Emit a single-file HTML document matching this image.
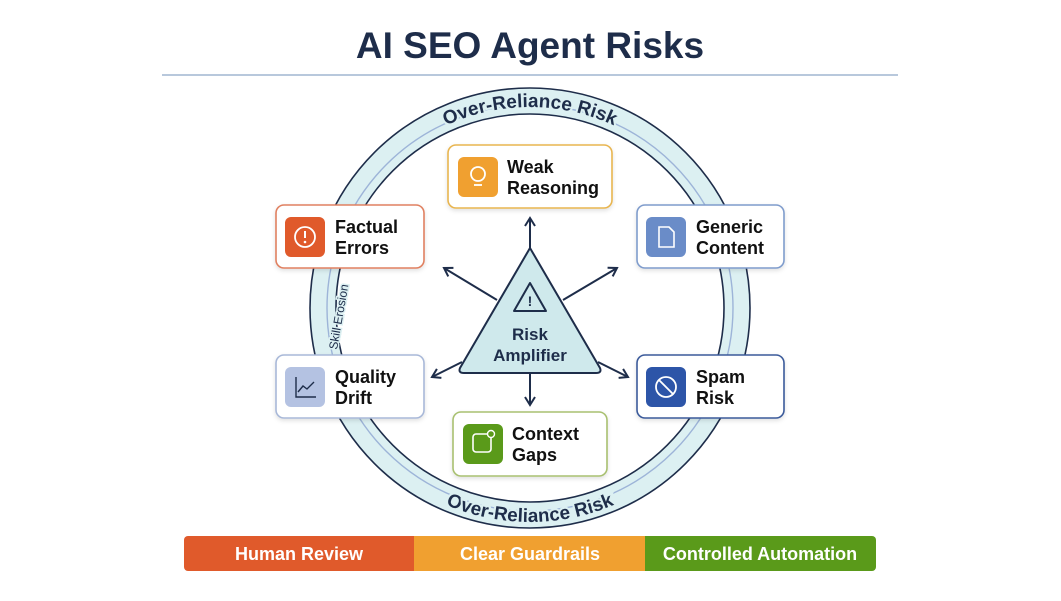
<!DOCTYPE html>
<html><head><meta charset="utf-8"><style>
body{margin:0;background:#fff;width:1061px;height:596px;overflow:hidden;font-family:"Liberation Sans",sans-serif}
</style></head><body>
<svg width="1061" height="596" viewBox="0 0 1061 596" xmlns="http://www.w3.org/2000/svg" font-family="Liberation Sans, sans-serif">
<defs>
<path id="topArc" d="M 329 308 A 201 201 0 0 1 731 308"/>
<path id="botArc" d="M 316 308 A 214 214 0 0 0 744 308"/>
<marker id="ah" markerWidth="12" markerHeight="12" refX="9" refY="6" orient="auto" markerUnits="userSpaceOnUse"><path d="M1 1 L9 6 L1 11" fill="none" stroke="#1e2d4a" stroke-width="2"/></marker>
<filter id="sh" x="-10%" y="-10%" width="120%" height="130%"><feDropShadow dx="0" dy="2" stdDeviation="2" flood-color="#000" flood-opacity="0.12"/></filter>
</defs>
<text x="530" y="58" text-anchor="middle" font-size="37" font-weight="bold" fill="#1e2d4a">AI SEO Agent Risks</text>
<line x1="162" y1="75" x2="898" y2="75" stroke="#b8c8dc" stroke-width="2"/>
<circle cx="530" cy="308" r="207" fill="none" stroke="#dcf0f2" stroke-width="26"/>
<circle cx="530" cy="308" r="220" fill="none" stroke="#1e2d4a" stroke-width="1.6"/>
<circle cx="530" cy="308" r="194" fill="none" stroke="#1e2d4a" stroke-width="1.6"/>
<circle cx="530" cy="308" r="203" fill="none" stroke="#9db4d8" stroke-width="1.4"/>
<text font-size="19" font-weight="bold" fill="#1e2d4a" stroke="#dcf0f2" stroke-width="4" paint-order="stroke"><textPath href="#topArc" startOffset="50%" text-anchor="middle">Over-Reliance Risk</textPath></text>
<text font-size="19" font-weight="bold" fill="#1e2d4a" stroke="#dcf0f2" stroke-width="4" paint-order="stroke"><textPath href="#botArc" startOffset="50%" text-anchor="middle">Over-Reliance Risk</textPath></text>
<text x="0" y="0" font-size="12" fill="#1e2d4a" stroke="#dcf0f2" stroke-width="3" paint-order="stroke" transform="translate(337,350) rotate(-80)">Skill Erosion</text>
<g stroke="#1e2d4a" stroke-width="2" fill="none" marker-end="url(#ah)">
<line x1="530" y1="250" x2="530" y2="218"/>
<line x1="497" y1="300" x2="444" y2="268"/>
<line x1="563" y1="300" x2="617" y2="268"/>
<line x1="462" y1="362" x2="432" y2="377"/>
<line x1="598" y1="362" x2="628" y2="377"/>
<line x1="530" y1="372" x2="530" y2="405"/>
</g>
<path d="M530 248 L600 368 Q602 373 596 373 L464 373 Q458 373 460 368 Z" fill="#cfe9ec" stroke="#1e2d4a" stroke-width="2" stroke-linejoin="round"/>
<path d="M530 283 L546 311 L514 311 Z" fill="none" stroke="#1e2d4a" stroke-width="2" stroke-linejoin="round"/>
<text x="530" y="306" text-anchor="middle" font-size="14" font-weight="bold" fill="#1e2d4a">!</text>
<text x="530" y="340" text-anchor="middle" font-size="17" font-weight="bold" fill="#1e2d4a">Risk</text>
<text x="530" y="361" text-anchor="middle" font-size="17" font-weight="bold" fill="#1e2d4a">Amplifier</text>
<g font-size="18" font-weight="bold" fill="#111">
<rect x="448" y="145" width="164" height="63" rx="8" fill="#fff" stroke="#e8b550" stroke-width="1.6" filter="url(#sh)"/>
<rect x="458" y="157" width="40" height="40" rx="6" fill="#f0a030"/>
<circle cx="478" cy="174" r="7" fill="none" stroke="#fff" stroke-width="1.8"/><line x1="474" y1="185" x2="482" y2="185" stroke="#fff" stroke-width="1.8"/>
<text x="507" y="173">Weak</text><text x="507" y="194">Reasoning</text>
<rect x="276" y="205" width="148" height="63" rx="8" fill="#fff" stroke="#e08060" stroke-width="1.6" filter="url(#sh)"/>
<rect x="285" y="217" width="40" height="40" rx="6" fill="#e05a2b"/>
<circle cx="305" cy="237" r="10" fill="none" stroke="#fff" stroke-width="1.8"/><line x1="305" y1="231" x2="305" y2="238" stroke="#fff" stroke-width="2"/><circle cx="305" cy="242" r="1.3" fill="#fff"/>
<text x="335" y="233">Factual</text><text x="335" y="254">Errors</text>
<rect x="637" y="205" width="147" height="63" rx="8" fill="#fff" stroke="#7f9ccc" stroke-width="1.6" filter="url(#sh)"/>
<rect x="646" y="217" width="40" height="40" rx="6" fill="#6a8cc8"/>
<path d="M659 227 h10 l5 5 v15 h-15 z" fill="none" stroke="#fff" stroke-width="1.6"/>
<text x="696" y="233">Generic</text><text x="696" y="254">Content</text>
<rect x="276" y="355" width="148" height="63" rx="8" fill="#fff" stroke="#a8b8d8" stroke-width="1.6" filter="url(#sh)"/>
<rect x="285" y="367" width="40" height="40" rx="6" fill="#b4c2e2"/>
<path d="M296 377 v20 h20 M298 392 l5-6 4 3 7-7" fill="none" stroke="#1e2d4a" stroke-width="1.4"/>
<text x="335" y="383">Quality</text><text x="335" y="404">Drift</text>
<rect x="637" y="355" width="147" height="63" rx="8" fill="#fff" stroke="#3a5a9a" stroke-width="1.6" filter="url(#sh)"/>
<rect x="646" y="367" width="40" height="40" rx="6" fill="#2d55a8"/>
<circle cx="666" cy="387" r="10" fill="none" stroke="#fff" stroke-width="1.8"/><line x1="659" y1="380" x2="673" y2="394" stroke="#fff" stroke-width="1.8"/>
<text x="696" y="383">Spam</text><text x="696" y="404">Risk</text>
<rect x="453" y="412" width="154" height="64" rx="8" fill="#fff" stroke="#a8c070" stroke-width="1.6" filter="url(#sh)"/>
<rect x="463" y="424" width="40" height="40" rx="6" fill="#5a9a1a"/>
<rect x="473" y="434" width="18" height="18" rx="3" fill="none" stroke="#fff" stroke-width="1.6"/><circle cx="491" cy="434" r="3.5" fill="#5a9a1a" stroke="#fff" stroke-width="1.4"/>
<text x="512" y="440">Context</text><text x="512" y="461">Gaps</text>
</g>
<rect x="184" y="536" width="236" height="35" rx="4" fill="#e05a2b"/>
<rect x="414" y="536" width="236" height="35" fill="#f0a030"/>
<rect x="645" y="536" width="231" height="35" rx="4" fill="#5a9a1a"/>
<rect x="645" y="536" width="10" height="35" fill="#5a9a1a"/>
<g font-size="18" font-weight="bold" fill="#fff" text-anchor="middle">
<text x="299" y="560">Human Review</text>
<text x="530" y="560">Clear Guardrails</text>
<text x="760" y="560">Controlled Automation</text>
</g>
</svg>
</body></html>
